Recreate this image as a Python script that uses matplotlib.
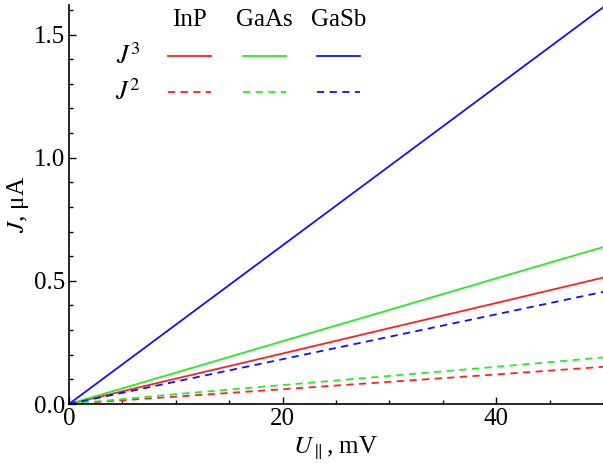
import matplotlib
matplotlib.use('Agg')
import matplotlib.pyplot as plt
from matplotlib.ticker import MultipleLocator, FormatStrFormatter

plt.rcParams['font.family'] = ['Liberation Serif', 'DejaVu Serif']
plt.rcParams['mathtext.fontset'] = 'stix'

# data
u = [0, 10, 20, 30, 40, 50]  # U_par, mV
materials = ['InP', 'GaAs', 'GaSb']
colors = ['#ff2020', '#22ee22', '#1010ff']
j3 = {
    'InP':  [0, 0.103, 0.205, 0.308, 0.410, 0.513],
    'GaAs': [0, 0.127, 0.255, 0.382, 0.510, 0.637],
    'GaSb': [0, 0.322, 0.644, 0.966, 1.288, 1.610],
}
j2 = {
    'InP':  [0, 0.030, 0.060, 0.090, 0.120, 0.151],
    'GaAs': [0, 0.040, 0.077, 0.114, 0.151, 0.189],
    'GaSb': [0, 0.091, 0.182, 0.273, 0.364, 0.455],
}

fig = plt.figure(figsize=(6.03, 4.70), dpi=100)
ax = fig.add_axes([0.1144, 0.1404, 0.8856, 0.849])

for m, c in zip(materials, colors):
    ax.plot(u, j3[m], color=c, lw=1.3, clip_on=False)
    ax.plot(u, j2[m], color=c, lw=1.3, ls=(0, (4, 3)), clip_on=False)

ax.set_xlim(0, 50)
ax.set_ylim(0, 1.62)
ax.spines['top'].set_visible(False)
ax.spines['right'].set_visible(False)
for s in ['left', 'bottom']:
    ax.spines[s].set_linewidth(1.2)

ax.xaxis.set_major_locator(MultipleLocator(20))
ax.xaxis.set_minor_locator(MultipleLocator(5))
ax.yaxis.set_major_locator(MultipleLocator(0.5))
ax.yaxis.set_minor_locator(MultipleLocator(0.1))
ax.yaxis.set_major_formatter(FormatStrFormatter('%.1f'))
ax.tick_params(which='both', direction='in', labelsize=18, width=1.0)
ax.tick_params(which='major', length=5, pad=3)
ax.tick_params(which='minor', length=3)

ax.set_xlabel(r'$U_{\parallel}$, mV', fontsize=18, labelpad=3)
ax.set_ylabel(r'$J$, μA', fontsize=18, labelpad=2)

# key table (positions in axes fraction)
col_x = [(168 - 69) / 534, (243 - 69) / 534, (317 - 69) / 534]
seg_w = 43 / 534
row_y = [1 - (56 - 5) / 399, 1 - (92 - 5) / 399]
head_y = 1 - (20 - 5) / 399
for m, c, x0 in zip(materials, colors, col_x):
    ax.text(x0 + seg_w / 2, head_y, m, transform=ax.transAxes,
            ha='center', va='center', fontsize=18)
    ax.plot([x0, x0 + seg_w], [row_y[0]] * 2, color=c, lw=1.3,
            transform=ax.transAxes)
    ax.plot([x0, x0 + seg_w], [row_y[1]] * 2, color=c, lw=1.3,
            ls=(0, (4, 3)), transform=ax.transAxes)
lab_x = (128 - 69) / 534
ax.text(lab_x, row_y[0], r'$J^3$', transform=ax.transAxes,
        ha='center', va='center', fontsize=19)
ax.text(lab_x, row_y[1], r'$J^2$', transform=ax.transAxes,
        ha='center', va='center', fontsize=19)

fig.savefig('out.png', dpi=100)
